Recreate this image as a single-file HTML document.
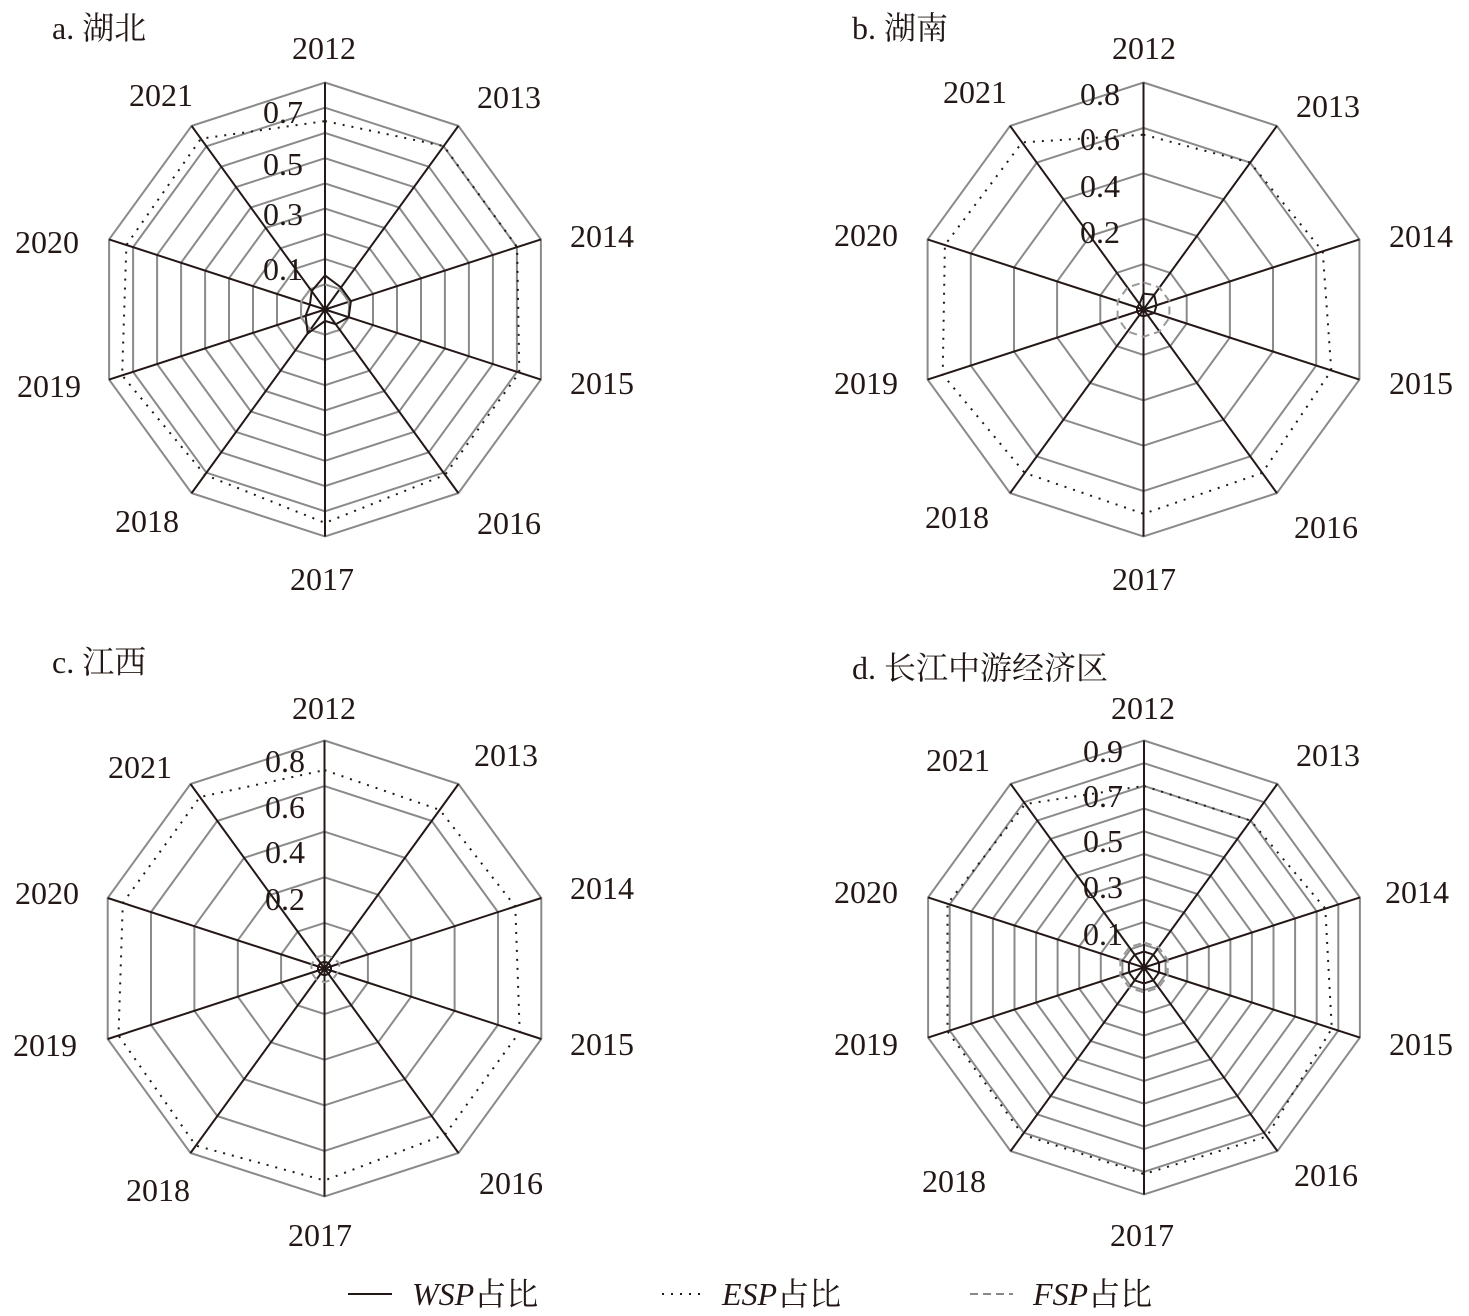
<!DOCTYPE html>
<html><head><meta charset="utf-8">
<style>
html,body{margin:0;padding:0;background:#fff;}
svg{display:block;}
text{font-family:"Liberation Serif","Noto Serif CJK SC","Noto Sans CJK SC",serif;fill:#231815;}
.y{font-size:32px;text-anchor:middle;}
.t{font-size:32px;text-anchor:end;}
.h{font-size:32px;}
.l{font-size:32px;}
</style></head>
<body>
<svg id="s" width="1469" height="1316" viewBox="0 0 1469 1316" xmlns="http://www.w3.org/2000/svg">
<g id="g"></g>
<text class="h" x="52" y="39">a. 湖北</text>
<text class="h" x="852" y="39">b. 湖南</text>
<text class="h" x="52" y="673">c. 江西</text>
<text class="h" x="852" y="679">d. 长江中游经济区</text>
<text class="y" x="324" y="59">2012</text>
<text class="y" x="509" y="108">2013</text>
<text class="y" x="602" y="247">2014</text>
<text class="y" x="602" y="394">2015</text>
<text class="y" x="509" y="534">2016</text>
<text class="y" x="322" y="590">2017</text>
<text class="y" x="147" y="532">2018</text>
<text class="y" x="49" y="397">2019</text>
<text class="y" x="47" y="253">2020</text>
<text class="y" x="161" y="106">2021</text>
<text class="y" x="1144" y="59">2012</text>
<text class="y" x="1328" y="117">2013</text>
<text class="y" x="1421" y="247">2014</text>
<text class="y" x="1421" y="394">2015</text>
<text class="y" x="1326" y="538">2016</text>
<text class="y" x="1144" y="590">2017</text>
<text class="y" x="957" y="528">2018</text>
<text class="y" x="866" y="394">2019</text>
<text class="y" x="866" y="246">2020</text>
<text class="y" x="975" y="103">2021</text>
<text class="y" x="324" y="719">2012</text>
<text class="y" x="506" y="766">2013</text>
<text class="y" x="602" y="899">2014</text>
<text class="y" x="602" y="1055">2015</text>
<text class="y" x="511" y="1194">2016</text>
<text class="y" x="320" y="1246">2017</text>
<text class="y" x="158" y="1201">2018</text>
<text class="y" x="45" y="1056">2019</text>
<text class="y" x="47" y="904">2020</text>
<text class="y" x="140" y="778">2021</text>
<text class="y" x="1143" y="719">2012</text>
<text class="y" x="1328" y="766">2013</text>
<text class="y" x="1417" y="903">2014</text>
<text class="y" x="1421" y="1055">2015</text>
<text class="y" x="1326" y="1186">2016</text>
<text class="y" x="1142" y="1246">2017</text>
<text class="y" x="954" y="1192">2018</text>
<text class="y" x="866" y="1055">2019</text>
<text class="y" x="866" y="903">2020</text>
<text class="y" x="958" y="771">2021</text>
<g id="ticks">
<text class="t" x="303" y="123">0.7</text>
<text class="t" x="303" y="175">0.5</text>
<text class="t" x="303" y="225">0.3</text>
<text class="t" x="303" y="280">0.1</text>
<text class="t" x="1120" y="105">0.8</text>
<text class="t" x="1120" y="150">0.6</text>
<text class="t" x="1120" y="197">0.4</text>
<text class="t" x="1120" y="243">0.2</text>
<text class="t" x="305" y="772">0.8</text>
<text class="t" x="305" y="818">0.6</text>
<text class="t" x="305" y="863">0.4</text>
<text class="t" x="305" y="910">0.2</text>
<text class="t" x="1123" y="762">0.9</text>
<text class="t" x="1123" y="807">0.7</text>
<text class="t" x="1123" y="852">0.5</text>
<text class="t" x="1123" y="898">0.3</text>
<text class="t" x="1123" y="945">0.1</text>
</g>
<line x1="348" y1="1294" x2="392" y2="1294" stroke="#231815" stroke-width="2"/>
<text class="l" x="412" y="1305"><tspan font-style="italic">WSP</tspan>占比</text>
<line x1="662" y1="1294" x2="705" y2="1294" stroke="#231815" stroke-width="2" stroke-dasharray="2 7"/>
<text class="l" x="722" y="1305"><tspan font-style="italic">ESP</tspan>占比</text>
<line x1="970" y1="1294" x2="1013" y2="1294" stroke="#888" stroke-width="2" stroke-dasharray="8 5"/>
<text class="l" x="1033" y="1305"><tspan font-style="italic">FSP</tspan>占比</text>
</svg>
<script>
var NS="http://www.w3.org/2000/svg";
var g=document.getElementById("g");
function el(n,a){var e=document.createElementNS(NS,n);for(var k in a)e.setAttribute(k,a[k]);g.appendChild(e);return e;}
function pts(cx,cy,rs){var p=[];for(var i=0;i<10;i++){var a=i*Math.PI/5;p.push((cx+rs[i]*Math.sin(a)).toFixed(1)+","+(cy-rs[i]*Math.cos(a)).toFixed(1));}return p.join(" ");}
var charts=[
{cx:325,cy:309.5,R:227,n:9,
 esp:[0.83,0.89,0.89,0.90,0.90,0.94,0.90,0.94,0.92,0.93],
 wsp:[0.15,0.12,0.12,0.11,0.08,0.05,0.13,0.09,0.07,0.10],
 fsp:[0.11,0.11,0.11,0.11,0.11,0.11,0.11,0.11,0.11,0.11]},
{cx:1143.5,cy:309.5,R:227,n:5,
 esp:[0.77,0.80,0.83,0.87,0.89,0.90,0.89,0.93,0.92,0.91],
 wsp:[0.07,0.08,0.06,0.05,0.03,0.03,0.03,0.03,0.03,0.03],
 fsp:[0.12,0.12,0.12,0.12,0.12,0.12,0.12,0.12,0.12,0.12]},
{cx:324.5,cy:968.5,R:228,n:5,
 esp:[0.87,0.86,0.88,0.90,0.90,0.93,0.96,0.95,0.93,0.93],
 wsp:[0.03,0.03,0.03,0.03,0.03,0.03,0.03,0.03,0.03,0.03],
 fsp:[0.06,0.06,0.07,0.06,0.06,0.06,0.06,0.06,0.06,0.06]},
{cx:1144,cy:967.5,R:227,n:10,
 esp:[0.80,0.80,0.84,0.87,0.92,0.91,0.91,0.91,0.91,0.89],
 wsp:[0.07,0.07,0.07,0.07,0.07,0.07,0.07,0.07,0.07,0.07],
 fsp:[0.11,0.11,0.11,0.11,0.11,0.11,0.11,0.11,0.11,0.11]}
];
charts.forEach(function(c){
 for(var k=1;k<=c.n;k++){var r=c.R*k/c.n;el("polygon",{points:pts(c.cx,c.cy,[r,r,r,r,r,r,r,r,r,r]),fill:"none",stroke:"#8a8a8a","stroke-width":2});}
 for(var i=0;i<10;i++){var a=i*Math.PI/5;el("line",{x1:c.cx,y1:c.cy,x2:(c.cx+c.R*Math.sin(a)).toFixed(1),y2:(c.cy-c.R*Math.cos(a)).toFixed(1),stroke:"#231815","stroke-width":2});}
 el("polygon",{points:pts(c.cx,c.cy,c.fsp.map(function(v){return v*c.R;})),fill:"none",stroke:"#999","stroke-width":2,"stroke-dasharray":"8 5"});
 el("polygon",{points:pts(c.cx,c.cy,c.esp.map(function(v){return v*c.R;})),fill:"none",stroke:"#231815","stroke-width":2,"stroke-dasharray":"2 7"});
 el("polygon",{points:pts(c.cx,c.cy,c.wsp.map(function(v){return v*c.R;})),fill:"none",stroke:"#231815","stroke-width":2});
 el("circle",{cx:c.cx,cy:c.cy,r:3,fill:"#231815"});
});
</script>
</body></html>
